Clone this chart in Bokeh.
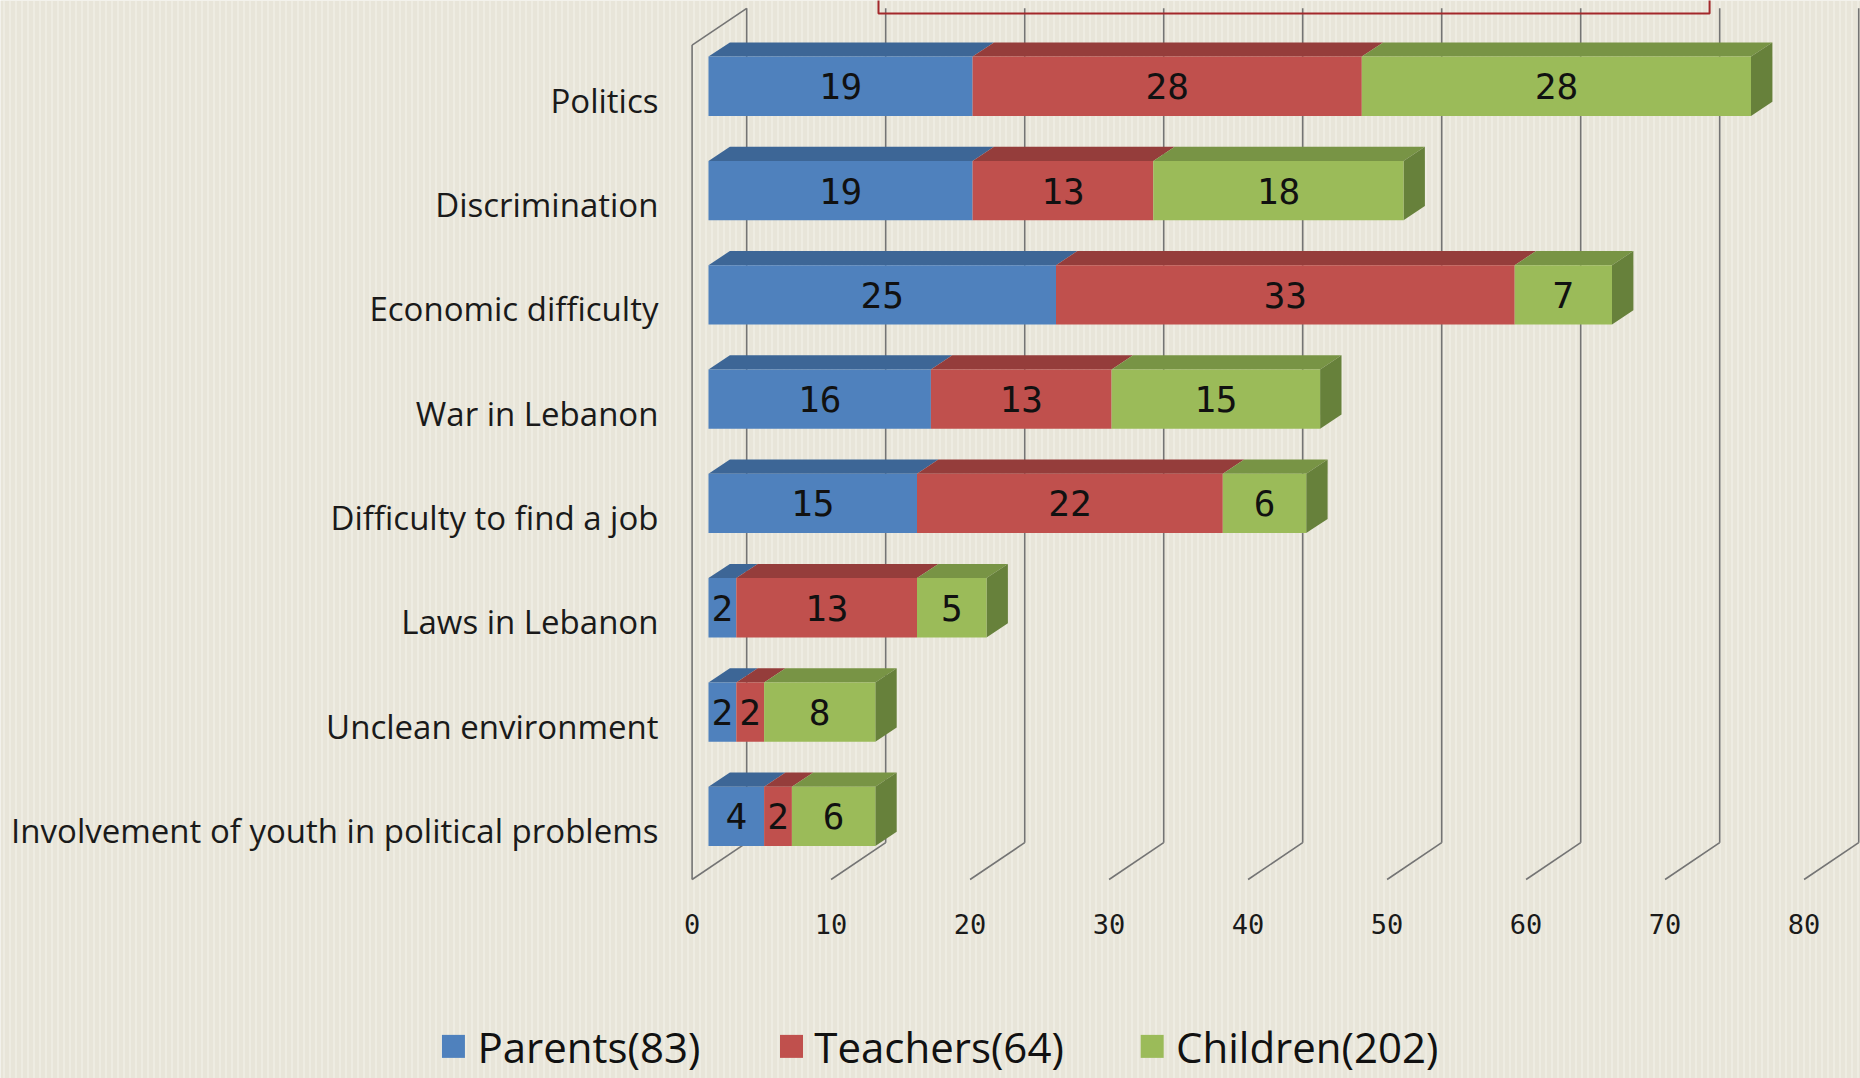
from bokeh.plotting import figure
from bokeh.core.properties import value
from bokeh.embed import file_html
from bokeh.resources import INLINE

# ---- data (bottom to top) ----
categories = ["Involvement of youth in political problems", "Unclean environment",
              "Laws in Lebanon", "Difficulty to find a job", "War in Lebanon",
              "Economic difficulty", "Discrimination", "Politics"]
parents = [4, 2, 2, 15, 16, 25, 19, 19]
teachers = [2, 2, 13, 22, 13, 33, 13, 28]
children = [6, 8, 5, 6, 15, 7, 18, 28]
series_names = ["Parents(83)", "Teachers(64)", "Children(202)"]
x_ticks = [0, 10, 20, 30, 40, 50, 60, 70, 80]

# ---- styling / geometry ----
W, H = 1860, 1078
X_PX = 13.9      # px per value unit
Y_PX = 104.3     # px per category
X0_PX = 691.6    # px position of value 0 on the front plane
FLOOR_PX = 879.0
x_start = -X0_PX / X_PX
x_end = x_start + W / X_PX
y_floor = -0.5
y_start = y_floor - (H - FLOOR_PX) / Y_PX
y_end = y_start + H / Y_PX

DX, DY = 54.6 / X_PX, 36.8 / Y_PX        # full depth of the 3D box
BX, BY = 16.4 / X_PX, 11.0 / Y_PX        # bar front-face depth shift
TX, TY = 21.4 / X_PX, 14.2 / Y_PX        # bar depth
BH = 59.3 / Y_PX                          # bar front height

front = ["#4F81BD", "#C0504D", "#9BBB59"]
top = ["#3D6696", "#953D3B", "#789445"]
side = ["#3A5F8C", "#8B3836", "#67813B"]
bg = "#E8E5D9"
grid_c = "#747474"

p = figure(width=W, height=H, x_range=(x_start, x_end), y_range=(y_start, y_end),
           x_axis_type=None, y_axis_type=None, toolbar_location=None,
           output_backend="svg", min_border=0, outline_line_color=None,
           background_fill_color=bg, border_fill_color=bg)

# subtle background texture
p.quad(left=x_start, right=x_end, bottom=y_start, top=y_end, fill_alpha=0,
       line_color=None, hatch_pattern="vertical_line", hatch_color="#F3F1E9",
       hatch_alpha=0.7, hatch_scale=6, hatch_weight=1.5)

y_top_wall = 7.5
# back wall vertical grid lines and floor diagonals
for v in x_ticks:
    p.line([v + DX, v + DX], [y_floor + DY, y_top_wall + DY], line_color=grid_c, line_width=1.6)
    p.line([v, v + DX], [y_floor, y_floor + DY], line_color=grid_c, line_width=1.6)
# left wall
p.line([0, 0], [y_floor, y_top_wall], line_color=grid_c, line_width=1.6)
p.line([0, DX], [y_top_wall, y_top_wall + DY], line_color=grid_c, line_width=1.6)

# title box remnant at top
p.quad(left=13.41, right=73.2, bottom=7.803, top=8.6, fill_color=None,
       line_color="#A3282B", line_width=2)

# bars
series = [parents, teachers, children]
for i, cat in enumerate(categories):
    yb = i + BY - BH / 2
    yt = i + BY + BH / 2
    cum = 0
    segs = []
    for s in range(3):
        v = series[s][i]
        segs.append((cum, cum + v, s))
        cum += v
    for (a, b, s) in segs:
        if b == a:
            continue
        xa, xb = a + BX, b + BX
        p.patch([xa, xb, xb + TX, xa + TX], [yt, yt, yt + TY, yt + TY],
                fill_color=top[s], line_color=None)
    a, b, s = segs[-1]
    xe = b + BX
    p.patch([xe, xe + TX, xe + TX, xe], [yb, yb + TY, yt + TY, yt],
            fill_color=side[s], line_color=None)
    for (a, b, s) in segs:
        p.quad(left=a + BX, right=b + BX, bottom=yb, top=yt,
               fill_color=front[s], line_color=None)
        p.text(x=[(a + b) / 2 + BX], y=[i + BY], text=[str(series[s][i])],
               text_align="center", text_baseline="middle",
               text_font=value("DejaVu Sans Mono"), text_font_size="36px",
               text_color="#111111")

# category labels
p.text(x=[-2.42] * len(categories), y=[i - 0.03 for i in range(len(categories))],
       text=categories, text_align="right", text_baseline="middle",
       text_font=value("Open Sans"), text_font_size="33px", text_color="#1a1a1a")

# x tick labels
p.text(x=x_ticks, y=[-0.93] * len(x_ticks), text=[str(t) for t in x_ticks],
       text_align="center", text_baseline="middle",
       text_font=value("DejaVu Sans Mono"), text_font_size="27px", text_color="#1a1a1a")

# legend
leg_sq_x = [-17.17, 7.15, 33.1]
leg_tx_x = [-15.44, 8.79, 34.81]
leg_y = -2.10
p.scatter(x=leg_sq_x, y=[leg_y] * 3, marker="square", size=23,
          fill_color=front, line_color=None)
p.text(x=leg_tx_x, y=[leg_y] * 3, text=series_names, text_align="left",
       text_baseline="middle", text_font=value("Open Sans"),
       text_font_size="42px", text_color="#111111")

open("out.html", "w").write(file_html(p, INLINE))
